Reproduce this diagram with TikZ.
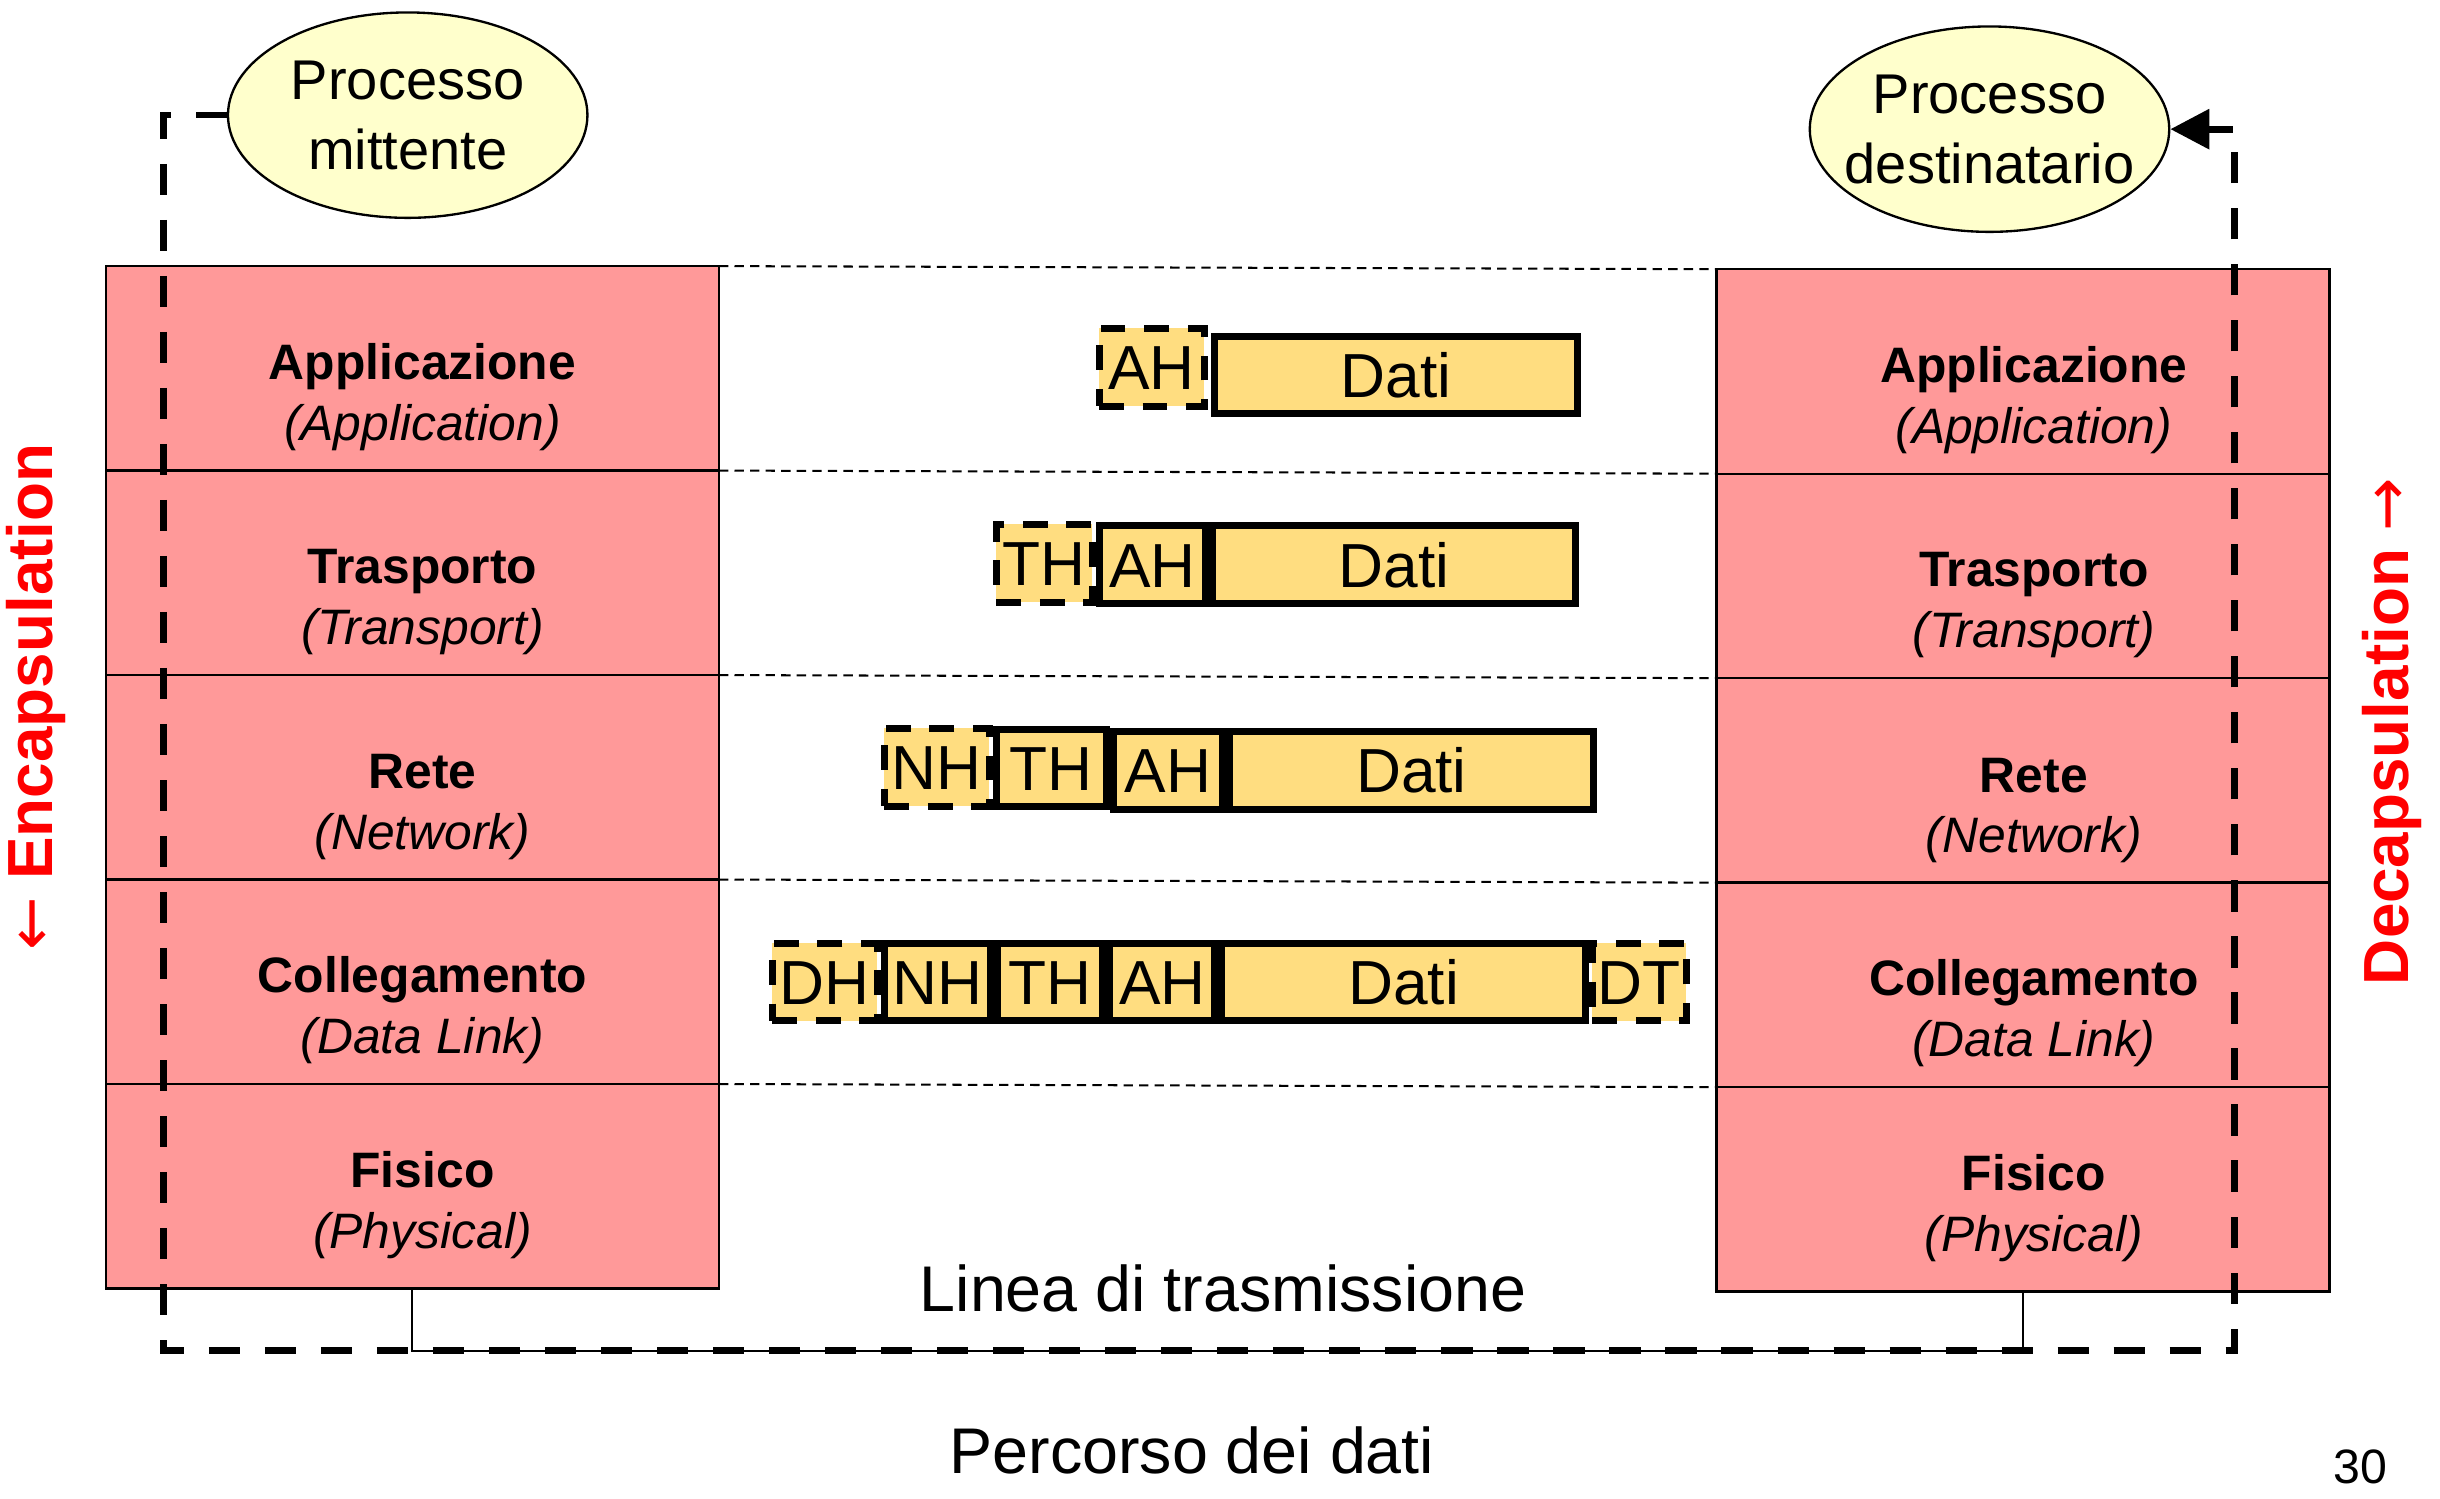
\documentclass[tikz,border=0pt]{standalone}
\usepackage{fontspec}
\setmainfont{Liberation Sans}
\newfontfamily\arrowfont{DejaVu Sans}
\usetikzlibrary{shapes.geometric,arrows.meta}
\definecolor{layerpink}{HTML}{FF9999}
\definecolor{procyellow}{HTML}{FFFFCC}
\definecolor{pktyellow}{HTML}{FFDD80}
\begin{document}
\begin{tikzpicture}[x=1pt,y=-1pt,
  layer/.style={draw=black, line width=1.5pt, fill=layerpink, minimum width=394pt, minimum height=131.4pt, inner sep=0pt, outer sep=0pt},
  lbold/.style={anchor=base, inner sep=0pt, font=\fontsize{32}{39}\selectfont\bfseries},
  lital/.style={anchor=base, inner sep=0pt, font=\fontsize{32}{39}\selectfont\itshape},
  procnode/.style={ellipse, draw=black, line width=1.5pt, fill=procyellow, minimum width=231pt, minimum height=132pt, inner sep=0pt},
  proctext/.style={inner sep=0pt, align=center, font=\fontsize{36}{45}\selectfont},
  pkt/.style={draw=black, line width=4.5pt, fill=pktyellow, inner sep=0pt, minimum height=50pt, text height=29pt, text depth=0pt, font=\fontsize{40}{48}\selectfont},
  hdr/.style={pkt, dash pattern=on 16pt off 12pt},
  sepline/.style={line width=1.3pt, dash pattern=on 6pt off 4pt},
  procpath/.style={line width=4.3pt, dash pattern=on 20pt off 16pt},
  txt/.style={anchor=base, inner sep=0pt, font=\fontsize{41.5}{49}\selectfont},
  side/.style={rotate=90, text=red, inner sep=0pt, font=\fontsize{41}{49}\selectfont}
]
\useasboundingbox (0,0) rectangle (1568,963);

% left stack
\node[layer] (L1) at (265,236.7) {};
\node[layer] (L2) at (265,368.1) {};
\node[layer] (L3) at (265,499.5) {};
\node[layer] (L4) at (265,630.9) {};
\node[layer] (L5) at (265,762.3) {};
% right stack
\node[layer] (R1) at (1300,238.7) {};
\node[layer] (R2) at (1300,370.1) {};
\node[layer] (R3) at (1300,501.5) {};
\node[layer] (R4) at (1300,632.9) {};
\node[layer] (R5) at (1300,764.3) {};

% layer labels
\node[lbold] (L1a) at (271.5,244) {Applicazione};
\node[lital] (L1b) at (271.5,283) {(Application)};
\node[lbold] (L2a) at (271.5,375) {Trasporto};
\node[lital] (L2b) at (271.5,414) {(Transport)};
\node[lbold] (L3a) at (271.5,507) {Rete};
\node[lital] (L3b) at (271.5,546) {(Network)};
\node[lbold] (L4a) at (271.5,638) {Collegamento};
\node[lital] (L4b) at (271.5,677) {(Data Link)};
\node[lbold] (L5a) at (271.5,763) {Fisico};
\node[lital] (L5b) at (271.5,802) {(Physical)};

\node[lbold] (R1a) at (1307,246) {Applicazione};
\node[lital] (R1b) at (1307,285) {(Application)};
\node[lbold] (R2a) at (1307,377) {Trasporto};
\node[lital] (R2b) at (1307,416) {(Transport)};
\node[lbold] (R3a) at (1307,509) {Rete};
\node[lital] (R3b) at (1307,548) {(Network)};
\node[lbold] (R4a) at (1307,640) {Collegamento};
\node[lital] (R4b) at (1307,679) {(Data Link)};
\node[lbold] (R5a) at (1307,765) {Fisico};
\node[lital] (R5b) at (1307,804) {(Physical)};

% separators between the stacks
\draw[sepline] (L1.north east) -- (R1.north west);
\draw[sepline] (L1.south east) -- (R1.south west);
\draw[sepline] (L2.south east) -- (R2.south west);
\draw[sepline] (L3.south east) -- (R3.south west);
\draw[sepline] (L4.south east) -- (R4.south west);

% packets row 1
\node[hdr, minimum width=67.5pt] (p1ah) at (740,236) {AH};
\node[pkt, minimum width=233.5pt] (p1d) at (897,241) {Dati};
% row 2
\node[hdr, minimum width=61.5pt] (p2th) at (671,362) {TH};
\node[pkt, minimum width=68.5pt] (p2ah) at (740.5,363) {AH};
\node[pkt, minimum width=233.5pt] (p2d) at (896,363) {Dati};
% row 3
\node[hdr, minimum width=67.5pt] (p3nh) at (602,493) {NH};
\node[pkt, minimum width=70.5pt] (p3th) at (675.5,493.5) {TH};
\node[pkt, minimum width=70.5pt] (p3ah) at (750.5,495) {AH};
\node[pkt, minimum width=233.5pt] (p3d) at (907,495) {Dati};
% row 4
\node[hdr, minimum width=67.5pt] (p4dh) at (530,631) {DH};
\node[hdr, minimum width=60.5pt] (p4dt) at (1053.5,631) {DT};
\node[pkt, minimum width=68.5pt] (p4nh) at (602.5,631) {NH};
\node[pkt, minimum width=67.5pt] (p4th) at (675,631) {TH};
\node[pkt, minimum width=67.5pt] (p4ah) at (747,631) {AH};
\node[pkt, minimum width=233.5pt] (p4d) at (902,631) {Dati};

% processes
\node[procnode] (E1) at (262,74) {};
\node[proctext] (E1t) at (E1.center) {Processo\\mittente};
\node[procnode] (E2) at (1278.5,83) {};
\node[proctext] (E2t) at (E2.center) {Processo\\destinatario};

% transmission line
\coordinate (pbl) at (105,868);
\coordinate (pbr) at (1436,868);
\draw[line width=1.3pt] (L5.south) -- (L5.south |- pbl) -- (R5.south |- pbl) -- (R5.south);

% data path
\draw[procpath, -{Triangle[length=25pt,width=25pt]}] (E1.west) -| (pbl) -- (pbr) |- (E2.east);

% texts
\node[txt] (linea) at (786,843) {Linea di trasmissione};
\node[txt] (perc) at (766,947) {Percorso dei dati};
\node[anchor=base, inner sep=0pt, font=\fontsize{31}{37}\selectfont] (pg) at (1517,953) {30};

\node[side] (enc) at (23,448) {{\arrowfont ←} \textbf{Encapsulation}};
\node[side] (dec) at (1537,470) {\textbf{Decapsulation} {\arrowfont →}};
\end{tikzpicture}
\end{document}
